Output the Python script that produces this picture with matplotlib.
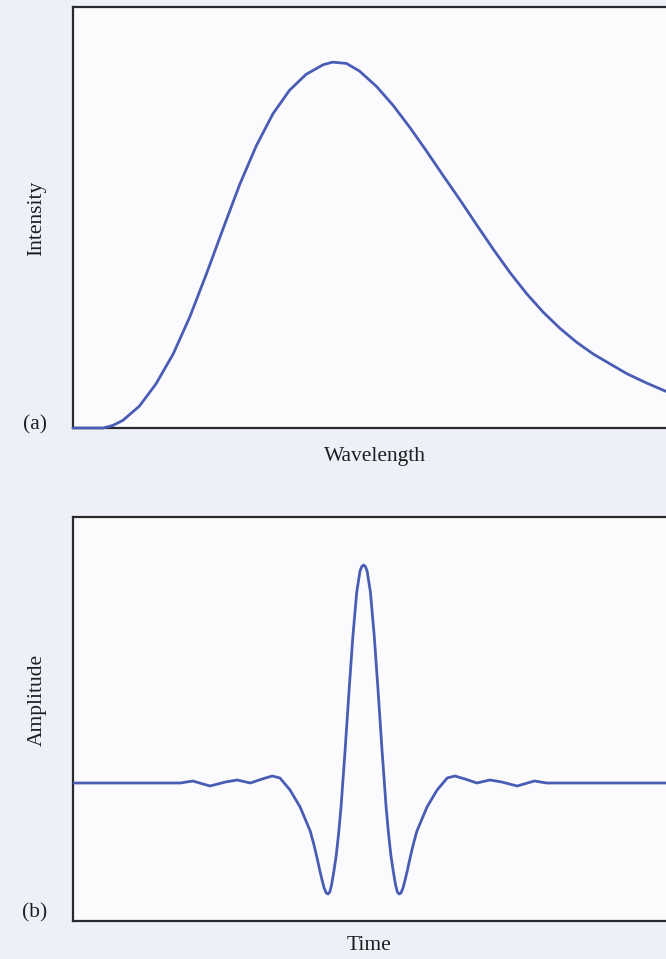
import matplotlib
matplotlib.use("Agg")
import matplotlib.pyplot as plt

# ---- Panel (a): intensity vs wavelength (arbitrary units)
wavelength = [0.00, 0.51, 0.67, 0.84, 1.12, 1.40, 1.69, 1.97, 2.25, 2.53, 2.81,
              3.09, 3.37, 3.65, 3.93, 4.22, 4.38, 4.61, 4.83, 5.12, 5.40, 5.68,
              5.96, 6.24, 6.53, 6.81, 7.09, 7.37, 7.65, 7.93, 8.21, 8.49, 8.77,
              9.06, 9.34, 9.67, 10.00]
intensity = [0.000, 0.000, 0.006, 0.018, 0.052, 0.105, 0.176, 0.264, 0.366,
             0.473, 0.578, 0.670, 0.746, 0.802, 0.840, 0.863, 0.869, 0.866,
             0.848, 0.811, 0.766, 0.714, 0.658, 0.600, 0.541, 0.482, 0.424,
             0.369, 0.319, 0.275, 0.237, 0.204, 0.176, 0.152, 0.129, 0.107, 0.087]

# ---- Panel (b): amplitude vs time
time = [-4.90, -3.09, -2.88, -2.59, -2.33, -2.13, -1.91, -1.71, -1.54, -1.41,
        -1.24, -1.07, -0.90, -0.84, -0.78, -0.74, -0.70, -0.665, -0.63, -0.60,
        -0.57, -0.54, -0.50, -0.46, -0.42, -0.38, -0.31, -0.245, -0.18, -0.115,
        -0.06, -0.03, 0.00,
        0.03, 0.06, 0.115, 0.18, 0.245, 0.31, 0.38, 0.42, 0.46, 0.50, 0.54,
        0.57, 0.60, 0.63, 0.665, 0.70, 0.74, 0.78, 0.84, 0.90, 1.07, 1.24,
        1.41, 1.54, 1.71, 1.91, 2.13, 2.33, 2.59, 2.88, 3.09, 5.10]
amplitude = [0.00, 0.00, 0.02, -0.03, 0.01, 0.03, 0.00, 0.04, 0.07, 0.05,
             -0.07, -0.24, -0.48, -0.61, -0.76, -0.87, -0.97, -1.05, -1.10, -1.11,
             -1.09, -1.02, -0.88, -0.72, -0.50, -0.24, 0.34, 0.92, 1.47, 1.91,
             2.12, 2.165, 2.18,
             2.165, 2.12, 1.91, 1.47, 0.92, 0.34, -0.24, -0.50, -0.72, -0.88, -1.02,
             -1.09, -1.11, -1.10, -1.05, -0.97, -0.87, -0.76, -0.61, -0.48, -0.24, -0.07,
             0.05, 0.07, 0.04, 0.00, 0.03, 0.01, -0.03, 0.02, 0.00, 0.00]

panel_labels = ["(a)", "(b)"]
x_labels = ["Wavelength", "Time"]
y_labels = ["Intensity", "Amplitude"]

W, H = 666, 959
bg = "#edf1f7"
face = "#fbfbfd"
line_c = "#4a5db4"
spine_c = "#2a2a2e"
text_c = "#1e1e22"

plt.rcParams["font.family"] = ["Liberation Serif", "DejaVu Serif"]

fig = plt.figure(figsize=(W / 100, H / 100), dpi=100)
fig.patch.set_facecolor(bg)

def px_box(left, top, right, bottom):
    return [left / W, 1 - bottom / H, (right - left) / W, (bottom - top) / H]

ax1 = fig.add_axes(px_box(73, 7, 666, 428))
ax2 = fig.add_axes(px_box(73, 517, 666, 921))

ax1.plot(wavelength, intensity, color=line_c, lw=2.0, solid_capstyle="round",
         solid_joinstyle="round", clip_on=False, zorder=3)
ax1.set_xlim(0, 10)
ax1.set_ylim(0, 1)

ax2.plot(time, amplitude, color=line_c, lw=2.0, solid_capstyle="round",
         solid_joinstyle="round", zorder=3)
ax2.set_xlim(-4.90, 5.10)
ax2.set_ylim(-1.38, 2.66)

for ax in (ax1, ax2):
    ax.set_facecolor(face)
    ax.set_xticks([])
    ax.set_yticks([])
    ax.spines["right"].set_visible(False)
    for s in ("left", "top", "bottom"):
        ax.spines[s].set_color(spine_c)
        ax.spines[s].set_linewidth(1.6)

fs = 15.5
fig.text(375 / W, 1 - 457 / H, x_labels[0], ha="center", va="center", fontsize=fs, color=text_c)
fig.text(369 / W, 1 - 945 / H, x_labels[1], ha="center", va="center", fontsize=fs, color=text_c)
fig.text(37 / W, 1 - 218 / H, y_labels[0], ha="center", va="center", rotation=90, fontsize=fs, color=text_c)
fig.text(37 / W, 1 - 700 / H, y_labels[1], ha="center", va="center", rotation=90, fontsize=fs, color=text_c)
fig.text(35 / W, 1 - 425 / H, panel_labels[0], ha="center", va="center", fontsize=fs, color=text_c)
fig.text(35 / W, 1 - 913 / H, panel_labels[1], ha="center", va="center", fontsize=fs, color=text_c)

fig.savefig("out.png", dpi=100, facecolor=bg)
